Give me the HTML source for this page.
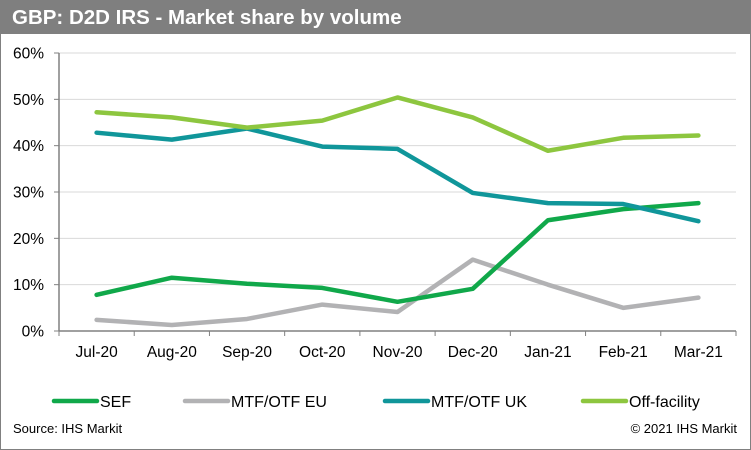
<!DOCTYPE html>
<html><head><meta charset="utf-8"><style>
body{margin:0;width:751px;height:450px;overflow:hidden;background:#fff;font-family:"Liberation Sans",Arial,sans-serif;}
#wrap{position:absolute;left:0;top:0;width:749px;height:448px;border:1px solid #808080;}
#title{position:absolute;left:0;top:0;width:751px;height:34px;background:#7f7f7f;color:#fff;font-weight:bold;font-size:20.5px;line-height:35px;padding-left:12px;box-sizing:border-box;}
.foot{position:absolute;top:421px;font-size:13px;color:#000;}
</style></head><body>
<div id="wrap"></div>
<div id="title">GBP: D2D IRS - Market share by volume</div>
<svg id="chart" width="751" height="450" style="position:absolute;left:0;top:0"></svg>
<div class="foot" style="left:13px">Source: IHS Markit</div>
<div class="foot" style="right:14px">© 2021 IHS Markit</div>
<script>
const categories=["Jul-20","Aug-20","Sep-20","Oct-20","Nov-20","Dec-20","Jan-21","Feb-21","Mar-21"];
const sefValues=[7.8,11.5,10.2,9.3,6.3,9.1,23.9,26.3,27.6];
const mtfEuValues=[2.4,1.3,2.6,5.7,4.1,15.4,10.0,5.0,7.2];
const mtfUkValues=[42.8,41.3,43.7,39.8,39.3,29.8,27.6,27.4,23.7];
const offFacilityValues=[47.2,46.1,43.9,45.4,50.4,46.1,38.9,41.7,42.2];
const yTicks=[0,10,20,30,40,50,60];
const seriesNames=["SEF","MTF/OTF EU","MTF/OTF UK","Off-facility"];
const NS="http://www.w3.org/2000/svg";
const svg=document.getElementById('chart');
const L=59,R=736,T=53,B=331;
const bw=(R-L)/categories.length;
function x(i){return L+bw*(i+0.5);}
function y(v){return B-(v/60)*(B-T);}
function mk(t,a){const e=document.createElementNS(NS,t);for(const k in a)e.setAttribute(k,a[k]);svg.appendChild(e);return e;}
yTicks.forEach(v=>{
  if(v>0){const g=mk('line',{x1:L,x2:R,y1:y(v),y2:y(v),stroke:'#d9d9d9','stroke-width':1});
  
  }
  const tk=mk('line',{x1:L-5,x2:L,y1:y(v),y2:y(v),stroke:'#808080','stroke-width':1});
  
  
  const t=mk('text',{x:L-15,y:y(v)+5.5,'text-anchor':'end','font-size':15.5,fill:'#000'});
  t.textContent=v+'%';
  
  
});
const ya=mk('line',{x1:L,x2:L,y1:T,y2:B,stroke:'#808080','stroke-width':1.5});


const xa=mk('line',{x1:L,x2:R,y1:B,y2:B,stroke:'#808080','stroke-width':1.5});


for(let i=0;i<=categories.length;i++){
  const tk=mk('line',{x1:L+bw*i,x2:L+bw*i,y1:B,y2:B+5,stroke:'#808080','stroke-width':1});
  
  
}
categories.forEach((c,i)=>{
  const t=mk('text',{x:x(i),y:B+26,'text-anchor':'middle','font-size':15.5,fill:'#000'});
  t.textContent=c;
  
  
});
const series=[sefValues,mtfEuValues,mtfUkValues,offFacilityValues];
const colors=["#10a84a","#b2b2b4","#10969a","#8dc63f"];
const drawOrder=[1,0,2,3];
drawOrder.forEach(s=>{
  const p=mk('polyline',{points:series[s].map((v,i)=>x(i)+','+y(v)).join(' '),fill:'none',stroke:colors[s],'stroke-width':4.5,'stroke-linecap':'round','stroke-linejoin':'round'});
  
  
});
const legX=[54,185,385,583];
seriesNames.forEach((n,s)=>{
  const l=mk('line',{x1:legX[s],x2:legX[s]+43,y1:401,y2:401,stroke:colors[s],'stroke-width':4.5,'stroke-linecap':'round'});
  
  
  const t=mk('text',{x:legX[s]+46,y:407,'font-size':16,fill:'#000'});
  t.textContent=n;
  
  
});
</script>
</body></html>
